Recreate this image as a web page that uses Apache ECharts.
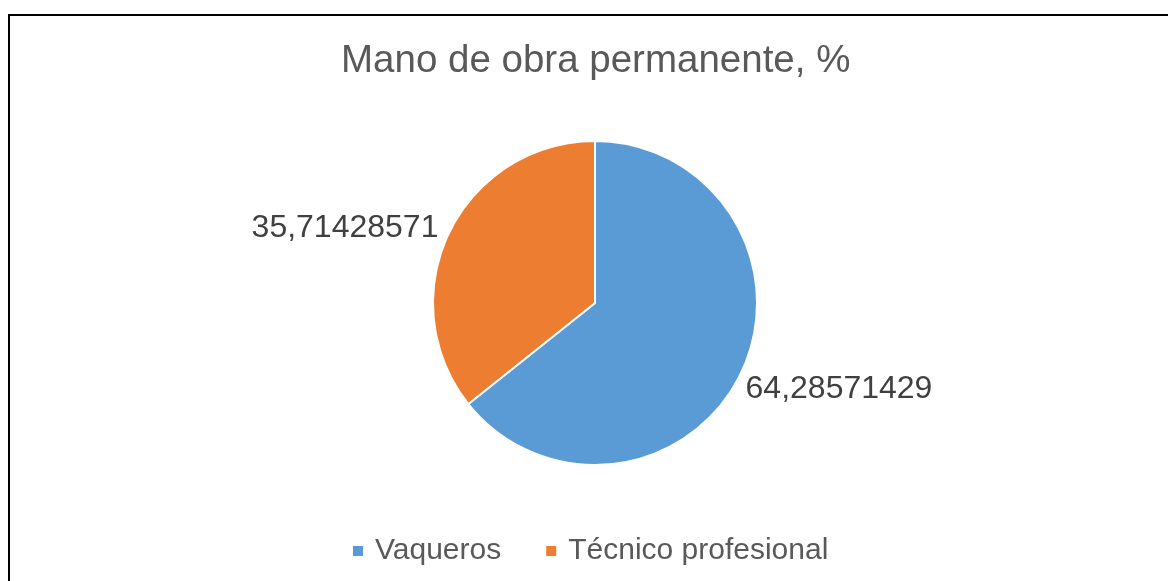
<!DOCTYPE html>
<html>
<head>
<meta charset="utf-8">
<script src="https://cdn.jsdelivr.net/npm/echarts@6/dist/echarts.min.js"></script>
<style>
  html, body { margin: 0; padding: 0; background: #fff; }
  #myChart { width: 1168px; height: 581px; }
</style>
</head>
<body>
<div id="myChart"></div>
<script>
// datos del grafico
const categories = ['Vaqueros', 'Técnico profesional'];
const values = [64.28571429, 35.71428571];
const colors = ['#5B9BD5', '#ED7D31'];

const fontFamily = "'Liberation Sans', Arial, sans-serif";

let pieData = [];
for (let i = 0; i < categories.length; i++) {
  pieData.push({ name: categories[i], value: values[i], itemStyle: { color: colors[i] } });
}

let option = {
  animation: false,
  backgroundColor: '#fff',
  title: {
    text: 'Mano de obra permanente, %',
    left: 336,
    top: 37,
    textStyle: { fontFamily: fontFamily, fontSize: 38.5, fontWeight: 'normal', color: '#595959' }
  },
  legend: {
    top: 531,
    left: 346,
    icon: 'rect',
    itemWidth: 12,
    itemHeight: 12,
    itemGap: 43,
    data: categories,
    textStyle: { fontFamily: fontFamily, fontSize: 30, color: '#595959', padding: [0, 0, 0, 6] }
  },
  // marco del grafico
  graphic: [{
    type: 'rect',
    shape: { x: 9, y: 15, width: 1200, height: 620 },
    style: { fill: 'none', stroke: '#000', lineWidth: 2 }
  }],
  series: [{
    type: 'pie',
    center: [595, 303],
    radius: 162,
    startAngle: 90,
    clockwise: true,
    data: pieData,
    itemStyle: { borderColor: '#fff', borderWidth: 2 },
    label: {
      show: true,
      position: 'outside',
      fontFamily: fontFamily,
      fontSize: 32,
      color: '#404040',
      formatter: p => String(p.value).replace('.', ',')
    },
    labelLine: { show: false, length: 4, length2: 4 },
    // ajuste tipo "mejor ajuste" de Excel
    labelLayout: function (params) {
      if (params.dataIndex === 0) return { dx: -8, dy: 14 };
      return { dx: 2, dy: -3 };
    },
    emphasis: { disabled: true }
  }]
};

const myChart = echarts.init(document.getElementById('myChart'));
myChart.setOption(option);
</script>
</body>
</html>
